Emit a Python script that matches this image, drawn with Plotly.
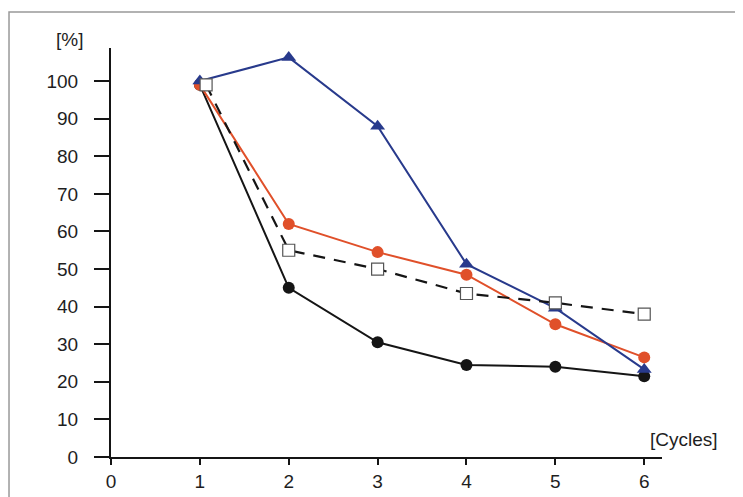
import plotly.graph_objects as go

cycles = [1, 2, 3, 4, 5, 6]
square_x = [1.07, 2, 3, 4, 5, 6]
black_vals = [99, 45, 30.5, 24.5, 24, 21.5]
orange_vals = [99, 62, 54.5, 48.5, 35.3, 26.5]
blue_vals = [100, 106.3, 88, 51.3, 39.6, 23.3]
square_vals = [99, 55, 50, 43.5, 41, 38]

x_ticks = [0, 1, 2, 3, 4, 5, 6]
y_ticks = [0, 10, 20, 30, 40, 50, 60, 70, 80, 90, 100]

FONT = "Liberation Sans, Arial, sans-serif"
TXT = "#1e1e1e"

fig = go.Figure()
fig.add_trace(go.Scatter(x=cycles, y=black_vals, mode="lines+markers",
                         line=dict(color="#151515", width=2),
                         marker=dict(symbol="circle", size=12, color="#151515")))
fig.add_trace(go.Scatter(x=cycles, y=orange_vals, mode="lines+markers",
                         line=dict(color="#e0502a", width=2),
                         marker=dict(symbol="circle", size=12, color="#e0502a")))
fig.add_trace(go.Scatter(x=cycles, y=blue_vals, mode="lines+markers",
                         line=dict(color="#283a8c", width=2),
                         marker=dict(symbol="triangle-up", size=13, color="#283a8c")))
fig.add_trace(go.Scatter(x=square_x, y=square_vals, mode="lines+markers",
                         line=dict(color="#151515", width=2.2, dash="12px,9px"),
                         marker=dict(symbol="square", size=12, color="white",
                                     line=dict(color="#555555", width=1.2))))

# page body has an 8px margin; the figure is sized/offset to compensate
fig.update_layout(
    width=735, height=489,
    margin=dict(l=103, r=81, t=40, b=40),
    paper_bgcolor="white", plot_bgcolor="white",
    showlegend=False,
    font=dict(family=FONT, size=19, color=TXT),
    xaxis=dict(range=[0, 6.2], tickvals=x_ticks, showgrid=False, zeroline=False,
               automargin=False,
               showline=True, linecolor="#151515", linewidth=2,
               ticks="outside", ticklen=6, tickwidth=2, tickcolor="#151515",
               ticklabelstandoff=0,
               tickfont=dict(size=19, color=TXT)),
    yaxis=dict(range=[0, 108.8], tickvals=y_ticks, showgrid=False, zeroline=False,
               automargin=False,
               showline=True, linecolor="#151515", linewidth=2,
               ticks="outside", ticklen=15, tickwidth=1.5, tickcolor="#151515",
               ticklabelstandoff=12,
               tickfont=dict(size=19, color=TXT)),
    shapes=[dict(type="rect", xref="paper", yref="paper",
                 x0=-0.1851, x1=1.3, y0=-0.3, y1=1.088,
                 line=dict(color="#999999", width=1.5), fillcolor="rgba(0,0,0,0)",
                 layer="below")],
    annotations=[
        dict(text="[%]", xref="paper", yref="paper", x=-0.047, y=1.02,
             xanchor="right", yanchor="middle", showarrow=False,
             font=dict(size=19, color=TXT)),
        dict(text="[Cycles]", xref="paper", yref="paper", x=1.105, y=0.042,
             xanchor="right", yanchor="middle", showarrow=False,
             font=dict(size=19, color=TXT)),
    ],
)

fig.write_html("out.html")
